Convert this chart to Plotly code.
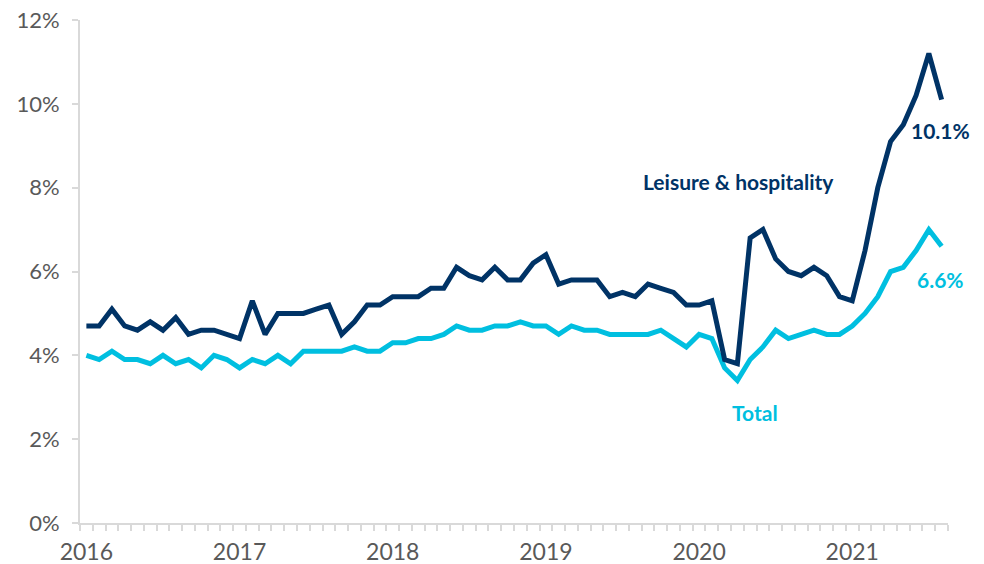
import plotly.graph_objects as go

months = [f"{y}-{m:02d}" for y in range(2016, 2022) for m in range(1, 13)][:68]

leisure = [4.7, 4.7, 5.1, 4.7, 4.6, 4.8, 4.6, 4.9, 4.5, 4.6, 4.6, 4.5,
           4.4, 5.3, 4.5, 5.0, 5.0, 5.0, 5.1, 5.2, 4.5, 4.8, 5.2, 5.2,
           5.4, 5.4, 5.4, 5.6, 5.6, 6.1, 5.9, 5.8, 6.1, 5.8, 5.8, 6.2,
           6.4, 5.7, 5.8, 5.8, 5.8, 5.4, 5.5, 5.4, 5.7, 5.6, 5.5, 5.2,
           5.2, 5.3, 3.9, 3.8, 6.8, 7.0, 6.3, 6.0, 5.9, 6.1, 5.9, 5.4,
           5.3, 6.5, 8.0, 9.1, 9.5, 10.2, 11.2, 10.1]

total = [4.0, 3.9, 4.1, 3.9, 3.9, 3.8, 4.0, 3.8, 3.9, 3.7, 4.0, 3.9,
         3.7, 3.9, 3.8, 4.0, 3.8, 4.1, 4.1, 4.1, 4.1, 4.2, 4.1, 4.1,
         4.3, 4.3, 4.4, 4.4, 4.5, 4.7, 4.6, 4.6, 4.7, 4.7, 4.8, 4.7,
         4.7, 4.5, 4.7, 4.6, 4.6, 4.5, 4.5, 4.5, 4.5, 4.6, 4.4, 4.2,
         4.5, 4.4, 3.7, 3.4, 3.9, 4.2, 4.6, 4.4, 4.5, 4.6, 4.5, 4.5,
         4.7, 5.0, 5.4, 6.0, 6.1, 6.5, 7.0, 6.6]

year_labels = ["2016", "2017", "2018", "2019", "2020", "2021"]
y_ticks = [0, 2, 4, 6, 8, 10, 12]

DARK = "#003366"
CYAN = "#00BFE0"
GRAY = "#595959"
AXIS = "#D9D9D9"

idx = list(range(len(months)))

fig = go.Figure()
fig.add_trace(go.Scatter(x=idx, y=total, mode="lines", name="Total",
                         line=dict(color=CYAN, width=5), customdata=months,
                         hovertemplate="%{customdata}: %{y}%<extra>Total</extra>"))
fig.add_trace(go.Scatter(x=idx, y=leisure, mode="lines", name="Leisure & hospitality",
                         line=dict(color=DARK, width=5), customdata=months,
                         hovertemplate="%{customdata}: %{y}%<extra>Leisure & hospitality</extra>"))

fig.update_layout(
    width=984, height=564,
    margin=dict(l=80, r=36, t=20, b=41),
    plot_bgcolor="white", paper_bgcolor="white",
    showlegend=False,
    font=dict(family="Lato, Open Sans, sans-serif", size=20, color=GRAY),
)

fig.update_xaxes(
    range=[-0.5, len(months) - 0.5],
    tickvals=[i * 12 for i in range(len(year_labels))],
    ticktext=year_labels,
    ticks="", showgrid=False, zeroline=False,
    showline=True, linecolor=AXIS, linewidth=2,
    tickfont=dict(size=23, color=GRAY),
    ticklabelstandoff=7,
    ticklabeloverflow="allow",
    automargin=False,
    minor=dict(ticks="outside", tick0=-0.5, dtick=1, ticklen=6,
               tickcolor=AXIS, tickwidth=1.5, showgrid=False),
)
fig.update_yaxes(
    range=[0, 12],
    tickvals=y_ticks, ticktext=[f"{v}%" for v in y_ticks],
    ticks="outside", ticklen=6, tickcolor=AXIS, tickwidth=1.5,
    showgrid=False, zeroline=False,
    showline=True, linecolor=AXIS, linewidth=2,
    tickfont=dict(size=22, color=GRAY),
    ticklabelstandoff=8,
    ticklabeloverflow="allow",
    automargin=False,
)

ann_font = dict(family="Lato, Open Sans, sans-serif", size=21)
fig.add_annotation(x=51.05, y=8.15, text="<b>Leisure & hospitality</b>", showarrow=False,
                   font=dict(color=DARK, **ann_font))
fig.add_annotation(x=66.9, y=9.36, text="<b>10.1%</b>", showarrow=False,
                   font=dict(color=DARK, **ann_font))
fig.add_annotation(x=66.9, y=5.81, text="<b>6.6%</b>", showarrow=False,
                   font=dict(color=CYAN, **ann_font))
fig.add_annotation(x=52.35, y=2.63, text="<b>Total</b>", showarrow=False,
                   font=dict(color=CYAN, **ann_font))

fig.write_html("out.html",
               config={"displayModeBar": False},
               post_script="document.body.style.margin='0';document.body.style.overflow='hidden';")
